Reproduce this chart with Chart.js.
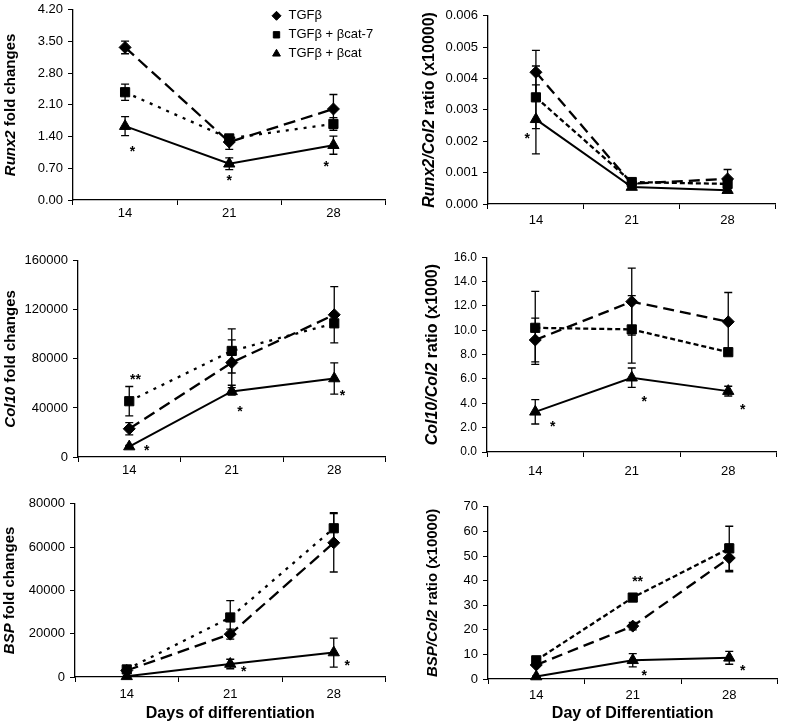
<!DOCTYPE html>
<html>
<head>
<meta charset="utf-8">
<script src="https://cdn.jsdelivr.net/npm/chart.js@4.4.0/dist/chart.umd.min.js"></script>
<style>
  body { margin: 0; background: #fff; width: 785px; height: 723px; overflow: hidden; position: relative; }
  canvas { position: absolute; }
</style>
</head>
<body>
<canvas id="p1"></canvas>
<canvas id="p2"></canvas>
<canvas id="p3"></canvas>
<canvas id="p4"></canvas>
<canvas id="p5"></canvas>
<canvas id="p6"></canvas>
<script>
const days = ['14', '21', '28'];
const seriesNames = ['TGFβ', 'TGFβ + βcat-7', 'TGFβ + βcat'];

// Runx2 fold changes
const runx2FoldTgf = [3.37, 1.28, 2.01];
const runx2FoldTgfErr = [0.14, 0.16, 0.32];
const runx2FoldCat7 = [2.38, 1.36, 1.68];
const runx2FoldCat7Err = [0.18, 0.08, 0.14];
const runx2FoldCat = [1.63, 0.80, 1.21];
const runx2FoldCatErr = [0.21, 0.13, 0.20];
const runx2FoldStars = [[0.07, 1.15, '*'], [1.0, 0.50, '*'], [1.93, 0.82, '*']];

// Runx2/Col2 ratio
const runx2RatioTgf = [0.0042, 0.00065, 0.0008];
const runx2RatioTgfErr = [0.0007, 0.0001, 0.0003];
const runx2RatioCat7 = [0.0034, 0.0007, 0.00064];
const runx2RatioCat7Err = [0.001, 0.0001, 0.0001];
const runx2RatioCat = [0.0027, 0.00054, 0.00044];
const runx2RatioCatErr = [0.0011, 0.00005, 0.00005];
const runx2RatioStars = [[-0.09, 0.0022, '*']];

// Col10 fold changes
const col10FoldTgf = [23000, 77000, 116000];
const col10FoldTgfErr = [5000, 18500, 23000];
const col10FoldCat7 = [45500, 86500, 109000];
const col10FoldCat7Err = [12000, 18000, 2000];
const col10FoldCat = [8500, 53500, 64000];
const col10FoldCatErr = [1000, 3000, 12800];
const col10FoldStars = [[0.06, 66000, '**'], [0.17, 8000, '*'], [1.08, 40000, '*'], [2.08, 53000, '*']];

// Col10/Col2 ratio
const col10RatioTgf = [9.2, 12.35, 10.7];
const col10RatioTgfErr = [1.8, 2.75, 2.4];
const col10RatioCat7 = [10.2, 10.07, 8.2];
const col10RatioCat7Err = [3.0, 2.77, 0.2];
const col10RatioCat = [3.3, 6.1, 5.0];
const col10RatioCatErr = [1.0, 0.8, 0.4];
const col10RatioStars = [[0.18, 2.4, '*'], [1.13, 4.4, '*'], [2.15, 3.8, '*']];

// BSP fold changes
const bspFoldTgf = [3000, 19800, 62000];
const bspFoldTgfErr = [300, 2300, 13500];
const bspFoldCat7 = [3500, 27500, 68700];
const bspFoldCat7Err = [300, 7800, 7200];
const bspFoldCat = [300, 6000, 11300];
const bspFoldCatErr = [200, 2200, 6700];
const bspFoldStars = [[1.13, 4000, '*'], [2.13, 7000, '*']];

// BSP/Col2 ratio
const bspRatioTgf = [5.7, 21.5, 49.2];
const bspRatioTgfErr = [0.5, 1.5, 5.6];
const bspRatioCat7 = [7.6, 33.1, 53.1];
const bspRatioCat7Err = [0.5, 1.0, 9.0];
const bspRatioCat = [1.0, 7.6, 8.6];
const bspRatioCatErr = [0.3, 2.7, 2.6];
const bspRatioStars = [[1.05, 41, '**'], [1.12, 3, '*'], [2.14, 4.7, '*']];

Chart.defaults.font.family = '"Liberation Sans", Arial, sans-serif';
Chart.defaults.color = '#000';

const panels = [
  { id: 'p1', box: [73, 5, 387, 200], max: 4.2, step: 0.7, dec: 2, xh: 30, xPad: 1,
    title: [['Runx2', true], [' fold changes', false]], titleX: 11, titleSize: 15, style: 'dot',
    series: [runx2FoldTgf, runx2FoldCat7, runx2FoldCat], errs: [runx2FoldTgfErr, runx2FoldCat7Err, runx2FoldCatErr],
    stars: runx2FoldStars, legend: true },
  { id: 'p2', box: [488, 11, 777, 204], max: 0.006, step: 0.001, dec: 3, xh: 30, xPad: 4,
    title: [['Runx2/Col2', true], [' ratio (x10000)', false]], titleX: 430, titleSize: 16, style: 'dash',
    series: [runx2RatioTgf, runx2RatioCat7, runx2RatioCat], errs: [runx2RatioTgfErr, runx2RatioCat7Err, runx2RatioCatErr],
    stars: runx2RatioStars },
  { id: 'p3', box: [78, 256, 387, 457], max: 160000, step: 40000, dec: 0, xh: 30, xPad: 1,
    title: [['Col10', true], [' fold changes', false]], titleX: 11, titleSize: 15, style: 'dot',
    series: [col10FoldTgf, col10FoldCat7, col10FoldCat], errs: [col10FoldTgfErr, col10FoldCat7Err, col10FoldCatErr],
    stars: col10FoldStars },
  { id: 'p4', box: [487, 253, 778, 452], max: 16, step: 2, dec: 1, xh: 30, xPad: 7,
    title: [['Col10/Col2', true], [' ratio (x1000)', false]], titleX: 433, titleSize: 16, style: 'dash',
    series: [col10RatioTgf, col10RatioCat7, col10RatioCat], errs: [col10RatioTgfErr, col10RatioCat7Err, col10RatioCatErr],
    stars: col10RatioStars },
  { id: 'p5', box: [75, 499, 387, 677], max: 80000, step: 20000, dec: 0, xh: 46, xPad: 5,
    title: [['BSP', true], [' fold changes', false]], titleX: 10, titleSize: 15, style: 'dot',
    xTitle: 'Days of differentiation',
    series: [bspFoldTgf, bspFoldCat7, bspFoldCat], errs: [bspFoldTgfErr, bspFoldCat7Err, bspFoldCatErr],
    stars: bspFoldStars },
  { id: 'p6', box: [488, 502, 779, 679], max: 70, step: 10, dec: 0, xh: 44, xPad: 4,
    title: [['BSP/Col2', true], [' ratio (x10000)', false]], titleX: 433, titleSize: 15, style: 'dash',
    xTitle: 'Day of Differentiation',
    series: [bspRatioTgf, bspRatioCat7, bspRatioCat], errs: [bspRatioTgfErr, bspRatioCat7Err, bspRatioCatErr],
    stars: bspRatioStars }
];

const Y_AREA = 80, PAD_TOP = 8, PAD_RIGHT = 6;
const pointStyles = ['rectRot', 'rect', 'triangle'];
const pointSizes = [6, 6.5, 6.5];

const errorBars = {
  id: 'errorBars',
  beforeDatasetsDraw(chart) {
    const ctx = chart.ctx, ys = chart.scales.y;
    ctx.save();
    ctx.strokeStyle = '#000';
    ctx.lineWidth = 1.3;
    chart.data.datasets.forEach((ds, i) => {
      chart.getDatasetMeta(i).data.forEach((pt, j) => {
        const e = ds.errors[j];
        const top = ys.getPixelForValue(ds.data[j] + e);
        const bot = ys.getPixelForValue(Math.max(0, ds.data[j] - e));
        ctx.beginPath();
        ctx.moveTo(pt.x, top); ctx.lineTo(pt.x, bot);
        ctx.moveTo(pt.x - 4, top); ctx.lineTo(pt.x + 4, top);
        ctx.moveTo(pt.x - 4, bot); ctx.lineTo(pt.x + 4, bot);
        ctx.stroke();
      });
    });
    ctx.restore();
  }
};

const stars = {
  id: 'stars',
  afterDatasetsDraw(chart, args, opts) {
    const ctx = chart.ctx;
    ctx.save();
    ctx.fillStyle = '#000';
    ctx.font = 'bold 14px "Liberation Sans", Arial';
    ctx.textAlign = 'center';
    ctx.textBaseline = 'alphabetic';
    (opts.list || []).forEach(s => {
      const x = chart.scales.x.getPixelForValue(s[0]);
      const y = chart.scales.y.getPixelForValue(s[1]);
      ctx.fillText(s[2], x, y + 8);
    });
    ctx.restore();
  }
};

const yTitle = {
  id: 'yTitle',
  afterDraw(chart, args, opts) {
    const ctx = chart.ctx, a = chart.chartArea;
    const fonts = opts.parts.map(p => (p[1] ? 'italic ' : '') + 'bold ' + opts.size + 'px "Liberation Sans", Arial');
    ctx.save();
    ctx.translate(opts.x, (a.top + a.bottom) / 2);
    ctx.rotate(-Math.PI / 2);
    ctx.fillStyle = '#000';
    ctx.textBaseline = 'middle';
    ctx.textAlign = 'left';
    let total = 0;
    opts.parts.forEach((p, i) => { ctx.font = fonts[i]; total += ctx.measureText(p[0]).width; });
    let x = -total / 2;
    opts.parts.forEach((p, i) => {
      ctx.font = fonts[i];
      ctx.fillText(p[0], x, 0);
      x += ctx.measureText(p[0]).width;
    });
    ctx.restore();
  }
};

const sideLegend = {
  id: 'sideLegend',
  afterDraw(chart, args, opts) {
    if (!opts.show) return;
    const ctx = chart.ctx, a = chart.chartArea;
    ctx.save();
    ctx.fillStyle = '#000';
    ctx.strokeStyle = '#000';
    ctx.font = '13px "Liberation Sans", Arial';
    ctx.textBaseline = 'middle';
    ctx.textAlign = 'left';
    chart.data.datasets.forEach((ds, i) => {
      const x = a.right - 109, y = a.top + 6 + i * 19;
      Chart.helpers.drawPoint(ctx, { pointStyle: ds.pointStyle, radius: 4.5, borderWidth: 1 }, x, y);
      ctx.fillText(ds.label, x + 12, y);
    });
    ctx.restore();
  }
};

panels.forEach(p => {
  const [l, t, r, b] = p.box;
  const cv = document.getElementById(p.id);
  const left = l - Y_AREA, top = t - PAD_TOP;
  cv.width = r - l + Y_AREA + PAD_RIGHT;
  cv.height = b - t + PAD_TOP + p.xh;
  cv.style.left = left + 'px';
  cv.style.top = top + 'px';

  const dashes = p.style === 'dot' ? [[12, 6], [3, 6], []] : [[11, 6], [5, 3], []];
  const datasets = p.series.map((vals, i) => ({
    label: seriesNames[i],
    data: vals,
    errors: p.errs[i],
    borderColor: '#000',
    backgroundColor: '#000',
    borderWidth: i === 2 ? 2 : 2.3,
    borderDash: dashes[i],
    pointStyle: pointStyles[i],
    pointRadius: pointSizes[i],
    pointBorderWidth: 1,
    pointHoverRadius: pointSizes[i],
    tension: 0,
    fill: false,
    clip: false
  }));

  new Chart(cv, {
    type: 'line',
    data: { labels: days, datasets: datasets },
    options: {
      responsive: false,
      animation: false,
      devicePixelRatio: 1,
      events: [],
      layout: { padding: { top: PAD_TOP, right: PAD_RIGHT, left: 0, bottom: 0 } },
      scales: {
        x: {
          type: 'category',
          offset: true,
          grid: { offset: true, drawOnChartArea: false, drawTicks: true, tickLength: 5, color: '#000', lineWidth: 1 },
          border: { color: '#000', width: 1.3 },
          ticks: { color: '#000', font: { size: 13 }, padding: p.xPad, maxRotation: 0 },
          title: p.xTitle ? { display: true, text: p.xTitle, color: '#000', font: { size: 16, weight: 'bold' }, padding: 0 } : { display: false },
          afterFit: s => { s.height = p.xh; }
        },
        y: {
          min: 0,
          max: p.max,
          grid: { drawOnChartArea: false, drawTicks: true, tickLength: 5, color: '#000', lineWidth: 1 },
          border: { color: '#000', width: 1.3 },
          ticks: { stepSize: p.step, color: '#000', font: { size: p.id === 'p4' ? 12 : 13 }, padding: 5,
                   callback: v => v.toFixed(p.dec) },
          afterFit: s => { s.width = Y_AREA; }
        }
      },
      plugins: {
        legend: { display: false },
        tooltip: { enabled: false },
        stars: { list: p.stars },
        yTitle: { parts: p.title, size: p.titleSize, x: p.titleX - left },
        sideLegend: { show: !!p.legend }
      }
    },
    plugins: [errorBars, stars, yTitle, sideLegend]
  });
});
</script>
</body>
</html>
